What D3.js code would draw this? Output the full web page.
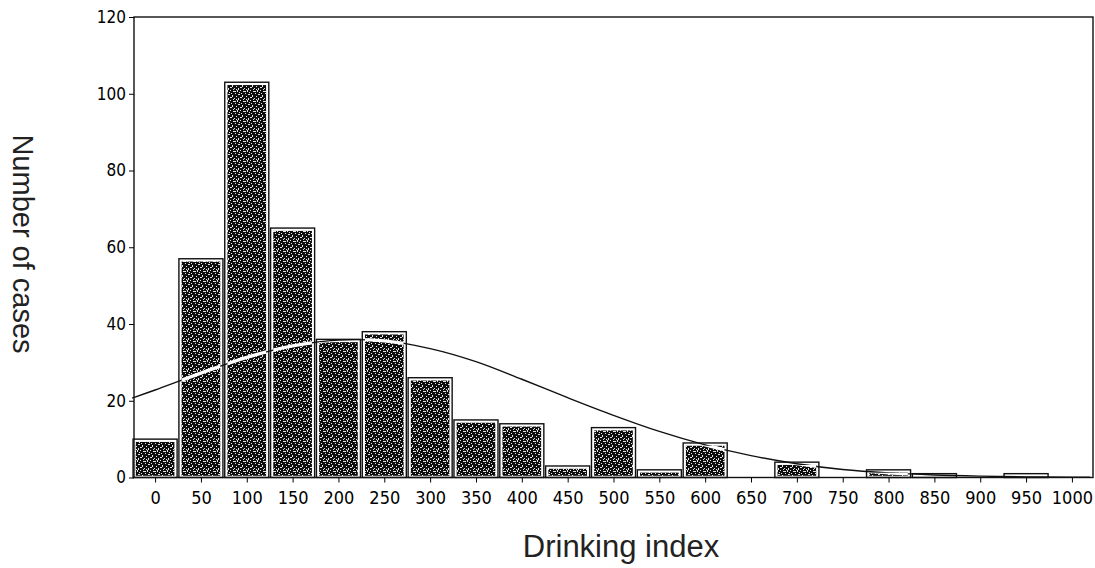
<!doctype html>
<html lang="en">
 <head>
  <meta charset="UTF-8">
  <script src="https://d3js.org/d3.v7.min.js"></script>
  <title>Drinking index</title>
  <style>
   body { margin: 0; background: #fff; }
   .tick text { font-family: "Liberation Sans Narrow", "Arial Narrow", "DejaVu Sans Condensed", sans-serif; fill: #000; }
   .lab { font-family: "Liberation Sans", Arial, sans-serif; fill: #222; }
  </style>
 </head>
 <body>
  <script>
	// histogram bins (centre of bin, bin width 50)
	const binCentres = [0, 50, 100, 150, 200, 250, 300, 350, 400, 450, 500, 550, 600, 650, 700, 750, 800, 850, 900, 950, 1000]
	const binCounts  = [10, 57, 103, 65, 36, 38, 26, 15, 14, 3, 13, 2, 9, 0, 4, 0, 2, 1, 0, 1, 0]

	// fitted curve
	const curveX = [-25, 0, 50, 100, 150, 200, 250, 300, 350, 400, 450, 500, 550, 600, 650, 700, 750, 800, 850, 900, 950, 1000, 1020]
	const curveY = [20.7, 22.8, 27.2, 31.3, 34.3, 35.8, 35.6, 33.6, 30.2, 25.6, 20.8, 16.2, 12.0, 8.5, 5.7, 3.6, 2.1, 1.2, 0.65, 0.35, 0.17, 0.08, 0.05]

	const xTicks = [0, 50, 100, 150, 200, 250, 300, 350, 400, 450, 500, 550, 600, 650, 700, 750, 800, 850, 900, 950, 1000]
	const yTicks = [0, 20, 40, 60, 80, 100, 120]

	const W = 1095, H = 568
	const pL = 134, pR = 1093, pT = 17, pB = 477.5

	const svg = d3.select('body').append('svg').attr('width', W).attr('height', H)

	const x = d3.scaleLinear().domain([-23, 1023]).range([pL, pR])
	const y = d3.scaleLinear().domain([0, 120]).range([pB, pT])

	const defs = svg.append('defs')

	// stipple texture for the bars
	const pat = defs.append('pattern')
	    .attr('id', 'stip').attr('patternUnits', 'userSpaceOnUse')
	    .attr('width', 10).attr('height', 10)
	pat.append('rect').attr('width', 10).attr('height', 10).attr('fill', '#0e0e0e')
	const specks = [[0,0,1,1],[3,1,2,1],[7,0,1,2],[1,3,1,1],[5,3,1,1],[8,4,2,1],[2,5,1,2],[6,6,1,1],
	          [0,7,2,1],[4,8,1,1],[8,8,1,2],[3,9,1,1],[9,2,1,1],[5,1,1,1],[6,9,1,1]]
	pat.selectAll('rect.s').data(specks).enter().append('rect')
	    .attr('class', 's')
	    .attr('x', function (d) { return d[0] }).attr('y', function (d) { return d[1] })
	    .attr('width', function (d) { return d[2] }).attr('height', function (d) { return d[3] })
	    .attr('fill', '#e4e4e4')

	const bins = binCentres.map(function (c, i) { return { c: c, v: binCounts[i] } })
	         .filter(function (d) { return d.v > 0 })

	const innerX = function (d) { return x(d.c - 25) + 3.6 }
	const innerW = function (d) { return x(d.c + 25) - x(d.c - 25) - 7.2 }
	const innerY = function (d) { return y(d.v) + 2.8 }
	const innerH = function (d) { return Math.max(0, pB - y(d.v) - 4.5) }

	const g = svg.append('g')
	// outer outline
	g.selectAll('rect.outer').data(bins).enter().append('rect')
	    .attr('class', 'outer')
	    .attr('x', function (d) { return x(d.c - 25) + 0.9 })
	    .attr('width', function (d) { return x(d.c + 25) - x(d.c - 25) - 1.8 })
	    .attr('y', function (d) { return y(d.v) })
	    .attr('height', function (d) { return pB - y(d.v) })
	    .attr('fill', '#fff').attr('stroke', '#111').attr('stroke-width', 1.4)
	// textured inside
	g.selectAll('rect.inner').data(bins).enter().append('rect')
	    .attr('class', 'inner')
	    .attr('x', innerX).attr('width', innerW)
	    .attr('y', innerY).attr('height', innerH)
	    .attr('fill', 'url(#stip)')

	// clip of the bar insides, where the curve shows white
	defs.append('clipPath').attr('id', 'barclip')
	    .selectAll('rect').data(bins).enter().append('rect')
	    .attr('x', innerX).attr('width', innerW)
	    .attr('y', innerY).attr('height', innerH)

	// curve
	const line = d3.line()
	    .x(function (d) { return x(d[0]) })
	    .y(function (d) { return y(d[1]) })
	    .curve(d3.curveCatmullRom)
	const pts = curveX.map(function (v, i) { return [v, curveY[i]] })
	svg.append('path').datum(pts).attr('d', line)
	    .attr('fill', 'none').attr('stroke', '#111').attr('stroke-width', 1.4)
	svg.append('path').datum(pts).attr('d', line)
	    .attr('clip-path', 'url(#barclip)')
	    .attr('fill', 'none').attr('stroke', '#fff').attr('stroke-width', 3.2)

	// frame
	svg.append('rect').attr('x', pL).attr('y', pT)
	    .attr('width', pR - pL).attr('height', pB - pT)
	    .attr('fill', 'none').attr('stroke', '#111').attr('stroke-width', 1.4)

	// axes
	const ya = svg.append('g').attr('transform', 'translate(' + pL + ',0)')
	    .call(d3.axisLeft(y).tickValues(yTicks).tickSize(5).tickPadding(3))
	ya.select('.domain').remove()
	ya.selectAll('.tick text').style('font-size', '17px')

	const xa = svg.append('g').attr('transform', 'translate(0,' + pB + ')')
	    .call(d3.axisBottom(x).tickValues(xTicks).tickFormat(d3.format('d')).tickSize(5).tickPadding(9))
	xa.select('.domain').remove()
	xa.selectAll('.tick text').style('font-size', '18px')

	// titles
	svg.append('text').attr('class', 'lab')
	    .attr('x', 621).attr('y', 557).attr('text-anchor', 'middle')
	    .style('font-size', '31px').text('Drinking index')
	svg.append('text').attr('class', 'lab')
	    .attr('transform', 'translate(13,244) rotate(90)').attr('text-anchor', 'middle')
	    .style('font-size', '29px').text('Number of cases')
  </script>
 </body>
</html>
